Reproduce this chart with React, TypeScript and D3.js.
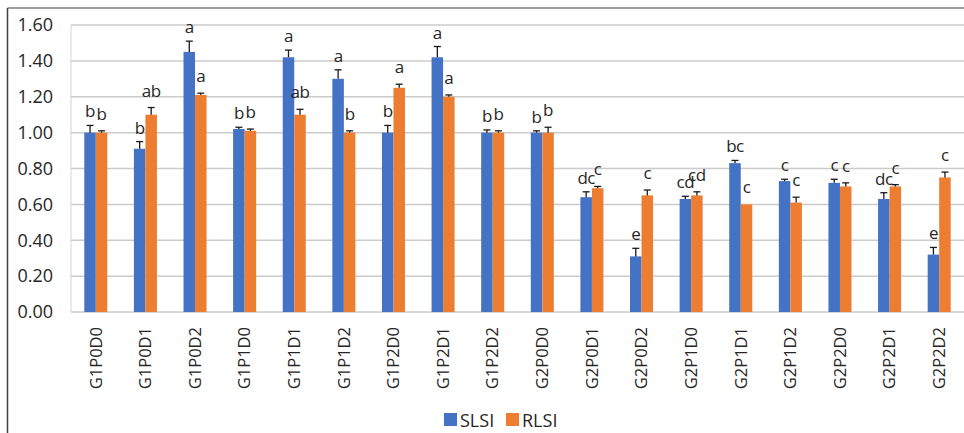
import React from "react";
import * as d3 from "d3";

const groups = [
  "G1P0D0", "G1P0D1", "G1P0D2", "G1P1D0", "G1P1D1", "G1P1D2",
  "G1P2D0", "G1P2D1", "G1P2D2", "G2P0D0", "G2P0D1", "G2P0D2",
  "G2P1D0", "G2P1D1", "G2P1D2", "G2P2D0", "G2P2D1", "G2P2D2"
];
const seriesNames = ["SLSI", "RLSI"];

const slsi = [1.0, 0.91, 1.45, 1.02, 1.42, 1.3, 1.0, 1.42, 1.0, 1.0, 0.64, 0.31, 0.63, 0.83, 0.73, 0.72, 0.63, 0.32];
const slsiErr = [0.04, 0.04, 0.06, 0.01, 0.04, 0.05, 0.04, 0.06, 0.015, 0.01, 0.03, 0.045, 0.015, 0.015, 0.01, 0.02, 0.035, 0.04];
const slsiLetters = ["b", "b", "a", "b", "a", "a", "b", "a", "b", "b", "dc", "e", "cd", "bc", "c", "c", "dc", "e"];

const rlsi = [1.0, 1.1, 1.21, 1.01, 1.1, 1.0, 1.25, 1.2, 1.0, 1.0, 0.69, 0.65, 0.65, 0.6, 0.61, 0.7, 0.7, 0.75];
const rlsiErr = [0.01, 0.04, 0.01, 0.01, 0.03, 0.01, 0.02, 0.01, 0.01, 0.03, 0.01, 0.03, 0.02, 0.0, 0.03, 0.02, 0.01, 0.03];
const rlsiLetters = ["b", "ab", "a", "b", "ab", "b", "a", "a", "b", "b", "c", "c", "cd", "c", "c", "c", "c", "c"];

const yTicks = [0, 0.2, 0.4, 0.6, 0.8, 1.0, 1.2, 1.4, 1.6];
const colors = ["#4472C4", "#ED7D31"];

const W = 964;
const H = 433;
const font = "'Open Sans', 'Liberation Sans', sans-serif";
const textColor = "#262626";

export default function App() {
  const x = d3
    .scaleBand<string>()
    .domain(groups)
    .range([71, 964])
    .paddingInner(0.536)
    .paddingOuter(0.268);
  const xs = d3
    .scaleBand<string>()
    .domain(seriesNames)
    .range([0, x.bandwidth()]);
  const y = d3.scaleLinear().domain([0, 1.6]).range([312, 25]);

  const series = [
    { name: "SLSI", values: slsi, err: slsiErr, letters: slsiLetters, lift: 8 },
    { name: "RLSI", values: rlsi, err: rlsiErr, letters: rlsiLetters, lift: 11 }
  ];

  return (
    <svg
      width={W}
      height={H}
      style={{ position: "absolute", left: 0, top: 0, background: "#fff" }}
    >
      {/* outer frame */}
      <line x1={7.5} x2={W} y1={8} y2={8} stroke="#7f7f7f" strokeWidth={1.5} />
      <line x1={7.5} x2={7.5} y1={8} y2={H} stroke="#404040" strokeWidth={1.5} />

      {/* gridlines */}
      {yTicks.map((t) => (
        <line
          key={t}
          x1={71}
          x2={W}
          y1={y(t)}
          y2={y(t)}
          stroke="#cbcbcb"
          strokeWidth={1.5}
        />
      ))}
      <line x1={71} x2={71} y1={y(1.6)} y2={y(0)} stroke="#d4d4d4" strokeWidth={1} />

      {/* y tick labels */}
      {yTicks.map((t) => (
        <text
          key={"l" + t}
          x={53}
          y={y(t)}
          dy="0.35em"
          textAnchor="end"
          fontFamily={font}
          fontSize={18}
          fill={textColor}
        >
          {t.toFixed(2)}
        </text>
      ))}

      {/* bars, error bars, letters */}
      {series.map((s, si) =>
        groups.map((g, i) => {
          const bx = (x(g) as number) + (xs(s.name) as number);
          const bw = xs.bandwidth();
          const cx = bx + bw / 2;
          const top = y(s.values[i] + s.err[i]);
          return (
            <g key={s.name + g}>
              <rect
                x={bx}
                y={y(s.values[i])}
                width={bw}
                height={y(0) - y(s.values[i])}
                fill={colors[si]}
              />
              {s.err[i] > 0 && (
                <g stroke="#1a1a1a" strokeWidth={1.3}>
                  <line x1={cx} x2={cx} y1={y(s.values[i])} y2={top} />
                  <line x1={cx - 3.5} x2={cx + 3.5} y1={top} y2={top} />
                </g>
              )}
              <text
                x={cx}
                y={top - s.lift}
                textAnchor="middle"
                fontFamily={font}
                fontSize={17}
                letterSpacing={-0.5}
                fill={textColor}
              >
                {s.letters[i]}
              </text>
            </g>
          );
        })
      )}

      {/* x labels */}
      {groups.map((g) => {
        const cx = (x(g) as number) + x.bandwidth() / 2;
        return (
          <text
            key={"x" + g}
            transform={`translate(${cx},327) rotate(-90)`}
            dy="0.35em"
            textAnchor="end"
            fontFamily={font}
            fontSize={16.5}
            fill={textColor}
          >
            {g}
          </text>
        );
      })}

      {/* legend */}
      {seriesNames.map((n, i) => {
        const lx = i === 0 ? 444 : 506;
        return (
          <g key={"lg" + n}>
            <rect x={lx} y={413} width={13} height={13} fill={colors[i]} />
            <text
              x={lx + 16}
              y={426.5}
              fontFamily={font}
              fontSize={18}
              fill={textColor}
            >
              {n}
            </text>
          </g>
        );
      })}
    </svg>
  );
}
